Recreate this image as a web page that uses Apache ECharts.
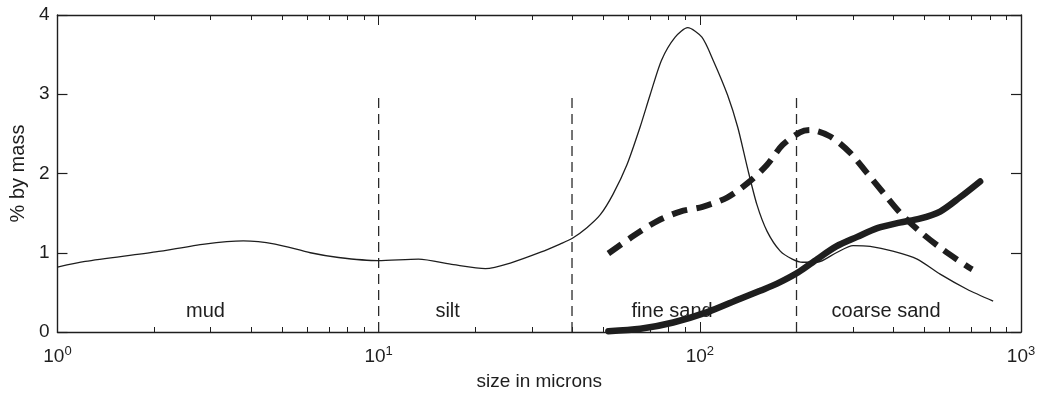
<!DOCTYPE html>
<html><head><meta charset="utf-8">
<script src="https://cdn.jsdelivr.net/npm/echarts@6/dist/echarts.min.js"></script>
<style>html,body{margin:0;padding:0;background:#fff}#c{width:1044px;height:396px}</style>
</head><body><div id="c"></div>
<script>
// size (microns) and % by mass
const thinX = [1, 1.22, 2.02, 2.87, 3.79, 4.76, 6.13, 7.5, 9.97, 13.3, 17.1, 21.5, 25.7, 32.1, 36.7, 40, 44.6, 49, 53.7, 59.3, 65.1, 70, 76, 83.8, 91.7, 101.5, 110, 122, 131.3, 140.5, 150.5, 162, 178, 194, 209, 232, 266, 300, 339, 399, 475, 560, 679, 819];
const thinY = [0.82, 0.89, 1.01, 1.11, 1.15, 1.11, 1.0, 0.94, 0.90, 0.92, 0.85, 0.80, 0.87, 1.01, 1.11, 1.18, 1.32, 1.48, 1.74, 2.11, 2.58, 2.99, 3.43, 3.72, 3.84, 3.72, 3.43, 2.99, 2.58, 2.08, 1.61, 1.27, 1.02, 0.92, 0.88, 0.88, 1.0, 1.09, 1.08, 1.02, 0.92, 0.73, 0.54, 0.39];
const dashX = [51.9, 62, 73.7, 86.9, 102, 122, 143, 162, 181, 205, 220, 254, 294, 331, 372, 419, 484, 571, 685, 705];
const dashY = [0.99, 1.21, 1.4, 1.52, 1.58, 1.7, 1.9, 2.11, 2.36, 2.52, 2.55, 2.47, 2.26, 2.01, 1.76, 1.51, 1.27, 1.04, 0.82, 0.79];
const thickX = [51.9, 65.3, 82.6, 105.5, 133.6, 154, 174, 202, 232, 266, 309, 357, 419, 484, 560, 646, 746];
const thickY = [0.01, 0.04, 0.12, 0.25, 0.42, 0.52, 0.61, 0.75, 0.92, 1.08, 1.2, 1.31, 1.38, 1.43, 1.52, 1.7, 1.9];
const boundaries = [10, 40, 200];
const boundaryTop = 3;
const regionNames = ['mud', 'silt', 'fine sand', 'coarse sand'];
const regionX = [2.89, 16.4, 82, 380];
const regionY = 0.26;
const xLabelValues = [1, 10, 100, 1000];
const xMinorValues = [2,3,4,5,6,7,8,9,20,30,40,50,60,70,80,90,200,300,400,500,600,700,800,900];

const zip = (a, b) => a.map((v, i) => [v, b[i]]);
const font = 'Liberation Sans, Arial, sans-serif';
const ink = '#1e1e1e';
const axisLine = { show: true, lineStyle: { color: ink, width: 1.4 } };

const series = [
  { type: 'line', data: zip(thinX, thinY), smooth: 0.25, symbol: 'none', lineStyle: { color: ink, width: 1.3 } },
  { type: 'line', data: zip(dashX, dashY), smooth: 0.3, symbol: 'none', lineStyle: { color: ink, width: 6, type: [16, 9] } },
  { type: 'line', data: zip(thickX, thickY), smooth: 0.3, symbol: 'none', lineStyle: { color: ink, width: 6.5, cap: 'round' } },
];
boundaries.forEach(b => series.push({
  type: 'line', data: [[b, 0], [b, boundaryTop]], symbol: 'none',
  lineStyle: { color: '#2a2a2a', width: 1.3, type: [10, 6] }, z: 1
}));
series.push({
  type: 'scatter', symbolSize: 0, itemStyle: { opacity: 1 },
  data: regionX.map((x, i) => ({ value: [x, regionY], name: regionNames[i] })),
  label: { show: true, position: 'inside', formatter: p => p.name, color: ink, opacity: 1, fontFamily: font, fontSize: 20 }
});

function xAx(pos, values, len, labels) {
  const a = { type: 'log', logBase: 10, min: 1, max: 1000, position: pos,
    axisLine: values === xLabelValues ? axisLine : { show: false },
    axisTick: { show: true, inside: true, length: len, customValues: values, lineStyle: { color: ink, width: 1 } },
    axisLabel: { show: false }, splitLine: { show: false } };
  if (labels) {
    a.name = 'size in microns'; a.nameLocation = 'middle'; a.nameGap = 40;
    a.nameTextStyle = { fontFamily: font, fontSize: 19, color: ink };
    a.axisLabel = { show: true, customValues: xLabelValues, margin: 13, fontFamily: font, fontSize: 19, color: ink,
      formatter: v => '10{s|' + Math.round(Math.log10(v)) + '}',
      rich: { s: { fontSize: 13, verticalAlign: 'top', padding: [0, 0, 11, 0], fontFamily: font, color: ink } } };
  }
  return a;
}

const chart = echarts.init(document.getElementById('c'));
chart.setOption({
  animation: false,
  grid: { left: 57, right: 23, top: 15, bottom: 63, containLabel: false },
  xAxis: [
    xAx('bottom', xLabelValues, 10, true),
    xAx('bottom', xMinorValues, 5, false),
    xAx('top', xLabelValues, 10, false),
    xAx('top', xMinorValues, 5, false)
  ],
  yAxis: [
    { type: 'value', min: 0, max: 4, interval: 1, position: 'left',
      name: '% by mass', nameLocation: 'middle', nameGap: 25, nameRotate: 90,
      nameTextStyle: { fontFamily: font, fontSize: 20, color: ink },
      axisLine, axisTick: { show: true, inside: true, length: 10, lineStyle: { color: ink, width: 1.2 } },
      axisLabel: { margin: 8, fontFamily: font, fontSize: 19, color: ink },
      splitLine: { show: false } },
    { type: 'value', min: 0, max: 4, interval: 1, position: 'right',
      axisLine, axisTick: { show: true, inside: true, length: 10, lineStyle: { color: ink, width: 1.2 } },
      axisLabel: { show: false }, splitLine: { show: false } }
  ],
  series
});
</script></body></html>
